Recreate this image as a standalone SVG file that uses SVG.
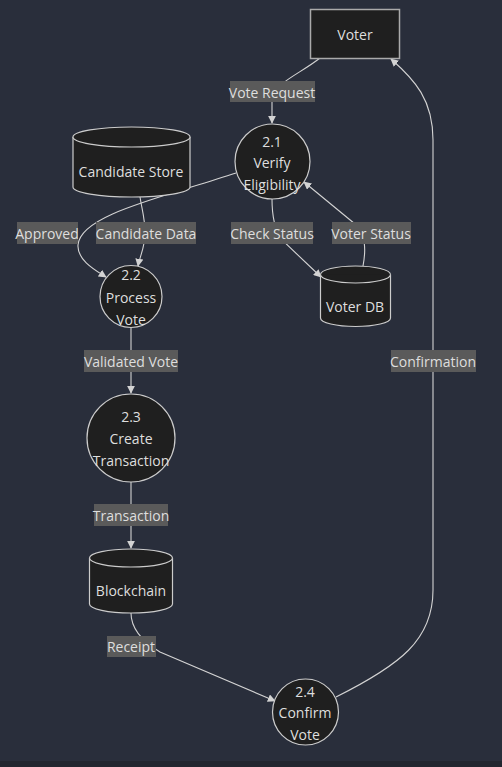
<svg xmlns="http://www.w3.org/2000/svg" width="502" height="767" viewBox="0 0 502 767">
<defs>
<style>
.bg{fill:#292e3b}
.node{fill:#1f1f1f;stroke:#cccccc;stroke-width:1.2}
.rect{fill:#1f1f1f;stroke:#aaaaaa;stroke-width:1.5}
.t{font-family:"Open Sans","DejaVu Sans",sans-serif;font-size:14px;font-weight:500;fill:#dedede;text-anchor:middle;dominant-baseline:central}
.edge{fill:none;stroke:#d3d3d3;stroke-width:1.1}
.lbl{fill:#5a5a5a}
</style>
<marker id="arr" viewBox="0 0 10 10" refX="9" refY="5" markerWidth="8" markerHeight="8" markerUnits="userSpaceOnUse" orient="auto">
<path d="M0,0 L10,5 L0,10 z" fill="#d3d3d3"/>
</marker>
</defs>
<rect class="bg" x="0" y="0" width="502" height="767"/>
<rect x="0" y="761" width="502" height="6" fill="#22262f"/>

<g id="connectors">
<path class="edge" d="M320,58 C300,74 272,84 272,100 L272,123" marker-end="url(#arr)"/>
<path class="edge" d="M236,173 C160,198 80,215 78,245 C77,260 95,270 106,277" marker-end="url(#arr)"/>
<path class="edge" d="M140,197 C142,210 145,218 145,233 C145,248 140,255 138,266" marker-end="url(#arr)"/>
<path class="edge" d="M272,199 C272,215 274,228 281,239 L321,277" marker-end="url(#arr)"/>
<path class="edge" d="M363,266 C366,250 366,235 355,224 L304,182" marker-end="url(#arr)"/>
<path class="edge" d="M131,327 L131,393" marker-end="url(#arr)"/>
<path class="edge" d="M131,482 L131,548" marker-end="url(#arr)"/>
<path class="edge" d="M131,613 C131,628 140,640 160,652 L275,701" marker-end="url(#arr)"/>
<path class="edge" d="M336,697 C400,665 433,640 433,590 L433,140 C433,100 415,80 391,59" marker-end="url(#arr)"/>
</g>

<g id="edge-labels">
<rect class="lbl" x="230" y="81" width="85" height="21"/><text class="t" x="272" y="92">Vote Request</text>
<rect class="lbl" x="17" y="222" width="61" height="22"/><text class="t" x="47" y="233">Approved</text>
<rect class="lbl" x="96" y="222" width="100" height="22"/><text class="t" x="146" y="233">Candidate Data</text>
<rect class="lbl" x="231" y="222" width="82" height="22"/><text class="t" x="272" y="233">Check Status</text>
<rect class="lbl" x="332" y="222" width="79" height="22"/><text class="t" x="371" y="233">Voter Status</text>
<rect class="lbl" x="84" y="350" width="94" height="22"/><text class="t" x="131" y="361">Validated Vote</text>
<rect class="lbl" x="94" y="504" width="74" height="22"/><text class="t" x="131" y="515">Transaction</text>
<rect class="lbl" x="107" y="636" width="49" height="21"/><text class="t" x="131" y="646">Receipt</text>
<rect class="lbl" x="391" y="350" width="85" height="22"/><text class="t" x="433" y="361">Confirmation</text>
</g>

<g id="voter">
<rect class="rect" x="310.5" y="9.5" width="89" height="49"/>
<text class="t" x="355" y="34">Voter</text>
</g>

<g id="p21">
<circle class="node" cx="272.5" cy="161.5" r="37.5"/>
<text class="t" x="272" y="141">2.1</text>
<text class="t" x="272" y="162">Verify</text>
<text class="t" x="272" y="184">Eligibility</text>
</g>

<g id="candidate-store">
<path class="node" d="M73,137 A58.5,10 0 0 1 190,137 L190,187 A58.5,10 0 0 1 73,187 Z"/>
<path class="node" d="M73,137 A58.5,10 0 0 0 190,137" fill="none"/>
<text class="t" x="131" y="171">Candidate Store</text>
</g>

<g id="voter-db">
<path class="node" d="M320.5,274.5 A35,8.5 0 0 1 390.5,274.5 L390.5,318 A35,8.5 0 0 1 320.5,318 Z"/>
<path class="node" d="M320.5,274.5 A35,8.5 0 0 0 390.5,274.5" fill="none"/>
<text class="t" x="355" y="306">Voter DB</text>
</g>

<g id="p22">
<circle class="node" cx="131" cy="296.5" r="31"/>
<text class="t" x="131" y="274">2.2</text>
<text class="t" x="131" y="297">Process</text>
<text class="t" x="131" y="319">Vote</text>
</g>

<g id="p23">
<circle class="node" cx="131" cy="438" r="44"/>
<text class="t" x="131" y="416">2.3</text>
<text class="t" x="131" y="438">Create</text>
<text class="t" x="131" y="460">Transaction</text>
</g>

<g id="blockchain">
<path class="node" d="M89.5,558 A41.5,9 0 0 1 172.5,558 L172.5,604 A41.5,9 0 0 1 89.5,604 Z"/>
<path class="node" d="M89.5,558 A41.5,9 0 0 0 172.5,558" fill="none"/>
<text class="t" x="131" y="590">Blockchain</text>
</g>

<g id="p24">
<circle class="node" cx="305.5" cy="712" r="33"/>
<text class="t" x="305" y="691">2.4</text>
<text class="t" x="305" y="712">Confirm</text>
<text class="t" x="305" y="734">Vote</text>
</g>
</svg>
